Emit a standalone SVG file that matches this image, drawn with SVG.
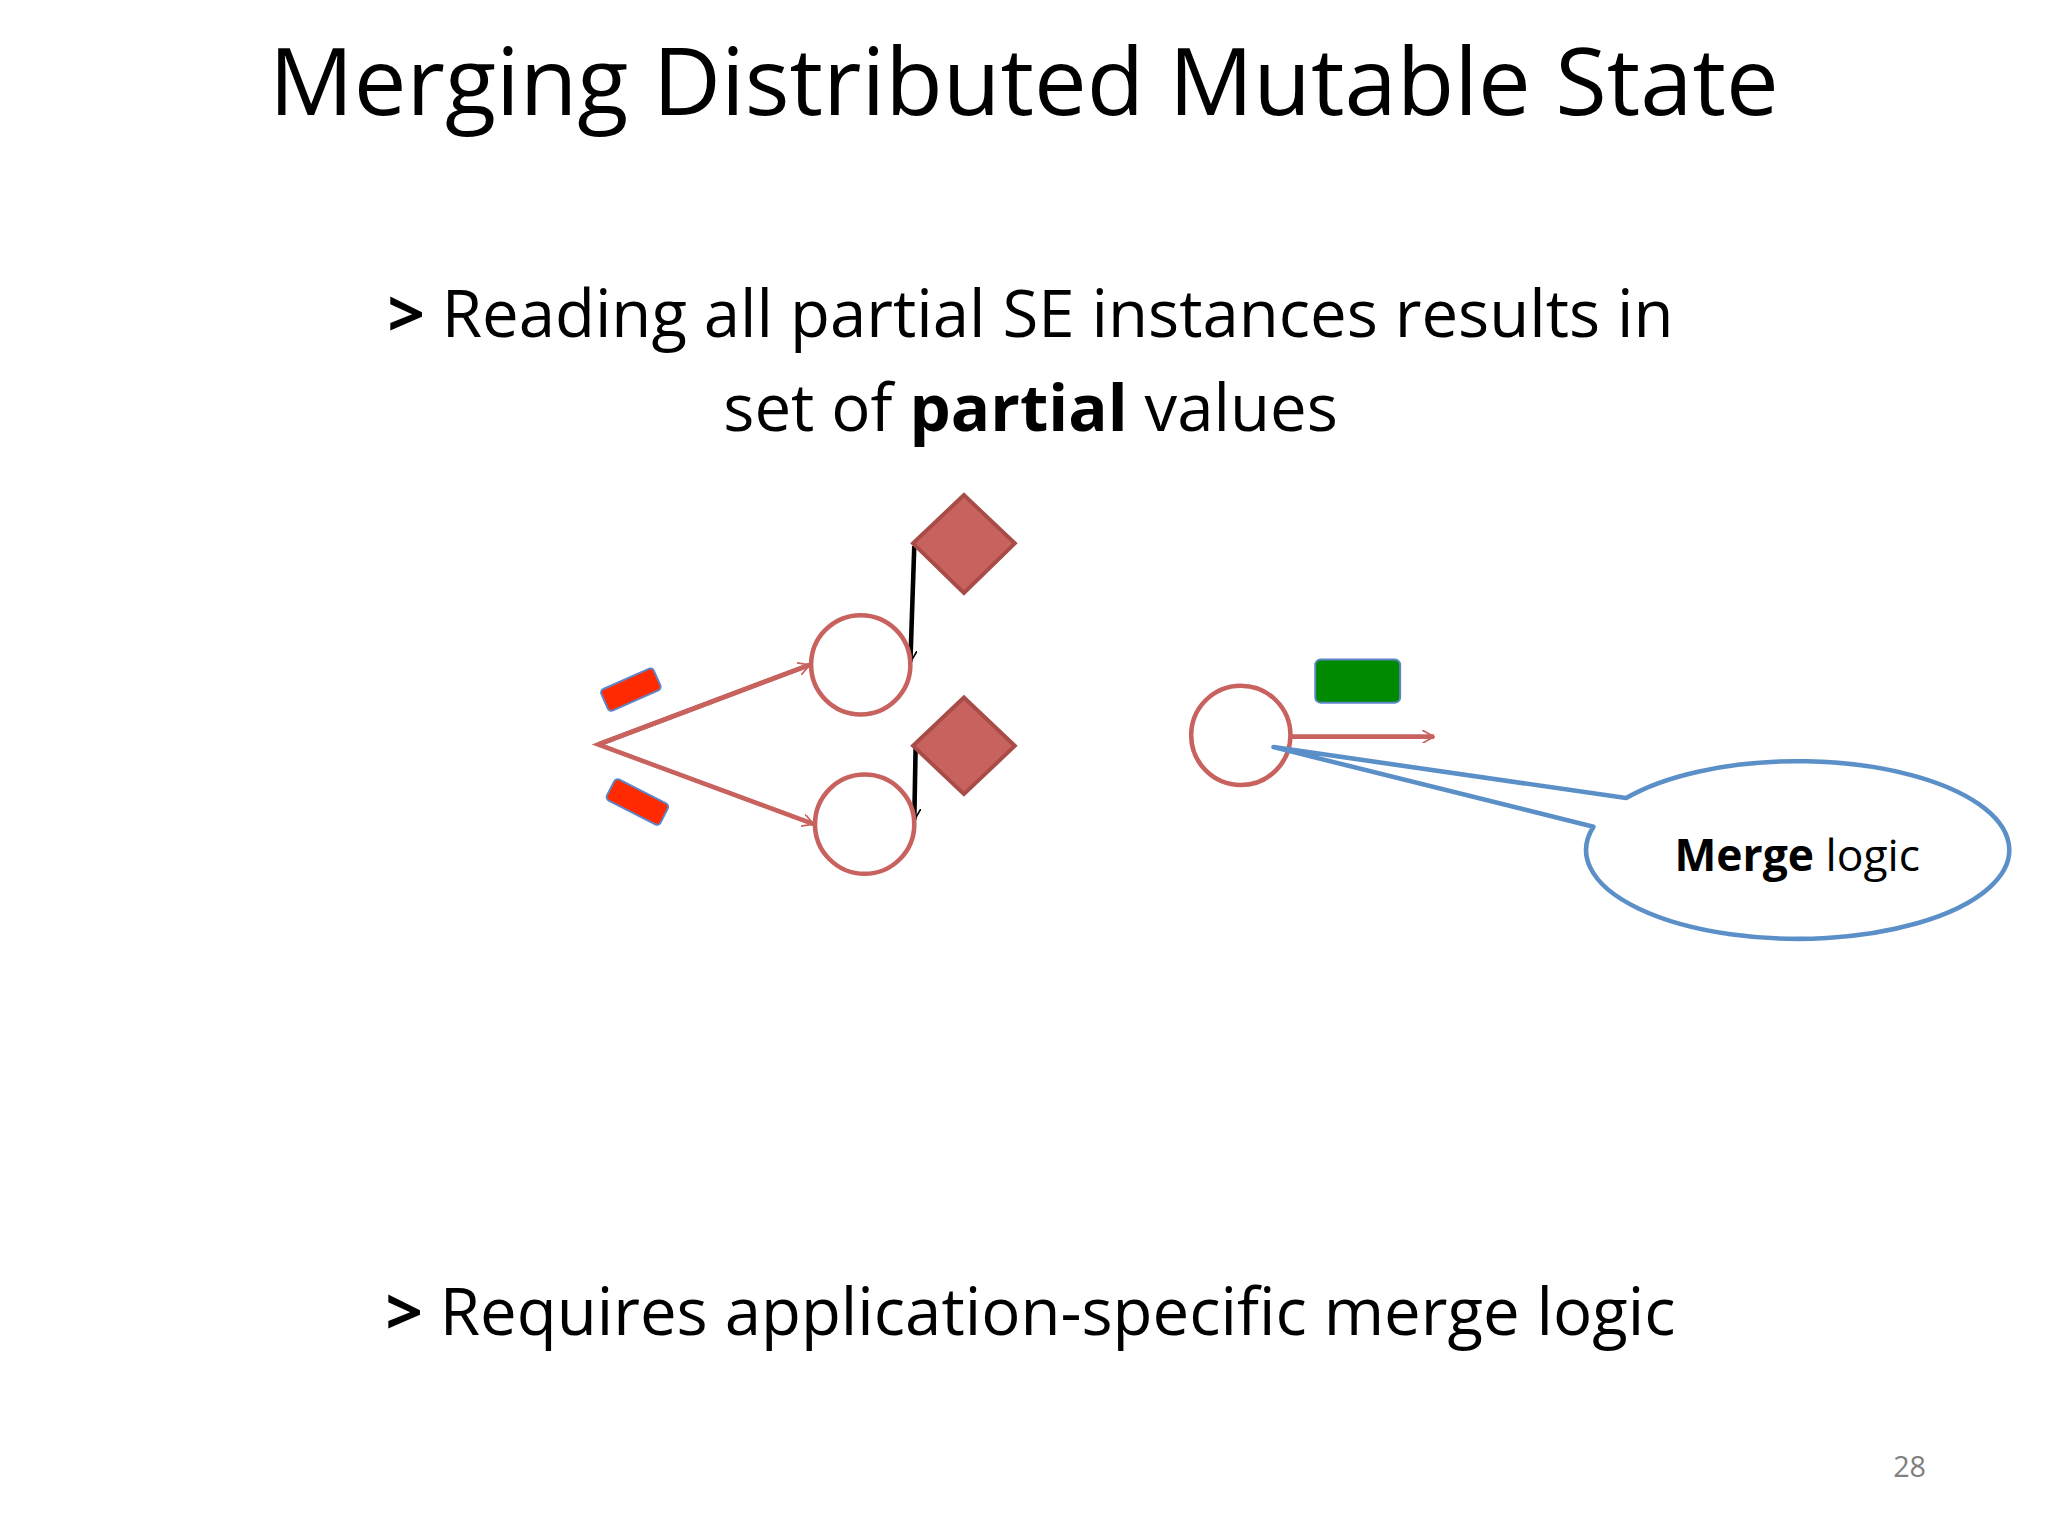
<svg xmlns="http://www.w3.org/2000/svg" width="2048" height="1536" viewBox="0 0 2048 1536">
<style>
.t{font-family:"Open Sans","Liberation Sans",sans-serif;fill:#000}
.c{fill:#fff;stroke:#c8625e;stroke-width:3.5}
.d{fill:#c8625e;stroke:#a84c48;stroke-width:3}
.ra{stroke:#c8625e;stroke-width:3.5;fill:none}
.ba{stroke:#000;stroke-width:3.5;fill:none}
</style>
<defs>
<marker id="mr" markerWidth="10" markerHeight="10" refX="9" refY="5" orient="auto" markerUnits="userSpaceOnUse" viewBox="0 0 10 10"><path d="M0,0 L9,5 L0,10" fill="none" stroke="#c8625e" stroke-width="1.3"/></marker>
<marker id="mb" markerWidth="10" markerHeight="10" refX="9" refY="5" orient="auto" markerUnits="userSpaceOnUse" viewBox="0 0 10 10"><path d="M0,0 L9,5 L0,10" fill="none" stroke="#000" stroke-width="1.3"/></marker>
</defs>
<rect width="2048" height="1536" fill="#fff"/>
<g transform="scale(1.30612)">
<text class="t" x="784" y="88" font-size="72" text-anchor="middle">Merging Distributed Mutable State</text>
<text class="t" x="789" y="258" font-size="50" text-anchor="middle"><tspan font-weight="bold">&gt;</tspan> Reading all partial SE instances results in</text>
<text class="t" x="789" y="330" font-size="50" text-anchor="middle">set of <tspan font-weight="bold">partial</tspan> values</text>
<text class="t" x="789" y="1022" font-size="50" text-anchor="middle"><tspan font-weight="bold">&gt;</tspan> Requires application-specific merge logic</text>
<text class="t" x="1462" y="1131" font-size="22" text-anchor="middle" fill="#808080" style="fill:#808080">28</text>
<g id="connectors">
<path class="ra" d="M620,509 L458,570 L623,631" marker-end="url(#mr)"/>
<line class="ra" x1="458" y1="570" x2="620" y2="509" marker-end="url(#mr)"/>
<line class="ra" x1="988" y1="564" x2="1098" y2="564" marker-end="url(#mr)"/>
<line class="ba" x1="700" y1="418" x2="697" y2="507" marker-end="url(#mb)"/>
<line class="ba" x1="701" y1="573" x2="700" y2="628" marker-end="url(#mb)"/>
</g>
<g id="circle1"><circle class="c" cx="659" cy="509" r="38"/></g>
<g id="circle2"><circle class="c" cx="662" cy="631" r="38"/></g>
<g id="circle3"><circle class="c" cx="950" cy="563" r="38"/></g>
<g id="diamond1"><polygon class="d" points="738,379 777,416 738,454 699,416"/></g>
<g id="diamond2"><polygon class="d" points="738,534 777,571 738,608 699,571"/></g>
<g id="red1"><rect x="461" y="519" width="44" height="18" rx="3" fill="#ff2a00" stroke="#5b86c8" stroke-width="1.5" transform="rotate(-24 483 528)"/></g>
<g id="red2"><rect x="465" y="605" width="46" height="18" rx="3" fill="#ff2a00" stroke="#5b86c8" stroke-width="1.5" transform="rotate(27 488 614)"/></g>
<g id="green"><rect x="1007" y="505" width="65" height="33" rx="4" fill="#008a00" stroke="#5b86c8" stroke-width="1.5"/></g>
<g id="callout">
<path d="M1245,611 L975,572 L1220,633 A162,68 0 1 0 1245,611 Z" fill="#fff" stroke="#5b8fc7" stroke-width="3.5" stroke-linejoin="round"/>
<text class="t" x="1376" y="667" font-size="34" text-anchor="middle"><tspan font-weight="bold">Merge</tspan> logic</text>
</g>
</g>
</svg>
